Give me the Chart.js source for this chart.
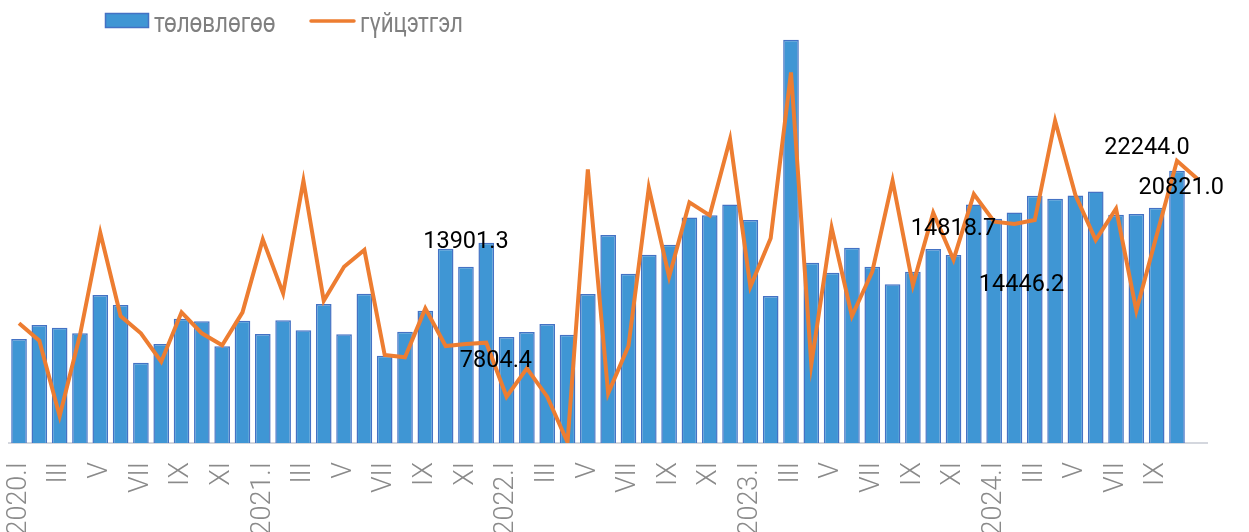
<!DOCTYPE html>
<html>
<head>
<meta charset="utf-8">
<script src="https://cdn.jsdelivr.net/npm/chart.js@4.4.1/dist/chart.umd.min.js"></script>
<style>
html,body{margin:0;padding:0;background:#fff;}
#wrap{width:1249px;height:532px;position:relative;}
</style>
</head>
<body>
<div id="wrap"><canvas id="c"></canvas></div>
<script>
// ---- data ----
const years = [2020, 2021, 2022, 2023, 2024];
const months = ['I','II','III','IV','V','VI','VII','VIII','IX','X','XI','XII'];
const lastMonthCount = 11; // 2024 runs through XI
const seriesNames = ['төлөвлөгөө', 'гүйцэтгэл'];

const planValues = [
  8195, 9298, 9086, 8644, 11662, 10874, 6328, 7801, 9795, 9590, 7620, 9637,
  8589, 9669, 8881, 10953, 8563, 11768, 6882, 8773, 10428, 15313, 13901.3, 15785,
  8353, 8747, 9377, 8536, 11741, 16390, 13342, 14840, 15628, 17783, 17941, 18807,
  17572, 11584, 31781, 14210, 13422, 15392, 13895, 12503, 13500, 15287, 14818.7, 18807,
  17677, 18177, 19490, 19253, 19516, 19831, 17993, 18045, 18544, 21460, null
];
const actualValues = [
  9432, 8061, 2128, 8510, 16572, 10008, 8644, 6406, 10299, 8644, 7699, 10299,
  16052, 11796, 20669, 11216, 13895, 15208, 6934, 6751, 10612, 7644, 7804.4, 7906,
  3651, 5884, 3651, 60, 21567, 3914, 7644, 20121, 13107, 18964, 17941, 23955,
  12319, 16130, 29211, 6199, 16968, 10008, 13500, 20671, 12450, 18148, 14446.2, 19621,
  17440, 17257, 17572, 25397, 19542, 15996, 18465, 10427, 16370, 22244.0, 20821.0
];
const labeledPlanIdx = [22, 46];
const labeledActualIdx = [22, 46, 57, 58];
const yMax = 32000;

// ---- categories ----
const categories = [];
years.forEach((y, yi) => {
  const n = (yi === years.length - 1) ? lastMonthCount : 12;
  for (let m = 0; m < n; m++) categories.push(m === 0 ? (y + '.' + months[m]) : months[m]);
});

// ---- styles ----
const BAR_FILL = '#3f96d4';
const BAR_BORDER = '#4472c4';
const LINE_COLOR = '#ed7d31';
const GRAY = '#8a8a8a';

// label offsets (text centre relative to the mark's pixel)
const planLabelOffset = {22: [0, -25], 46: [0, -25.5]};
const actualLabelOffset = {22: [30, 17], 46: [68, 25], 57: [-30, -12.5], 58: [-16, 9]};

const dataLabelPlugin = {
  id: 'dataLabels',
  afterDatasetsDraw(chart) {
    const ctx = chart.ctx;
    ctx.save();
    ctx.font = '400 23.5px Roboto';
    ctx.fillStyle = '#000';
    ctx.textAlign = 'center';
    ctx.textBaseline = 'middle';
    const lineMeta = chart.getDatasetMeta(0);
    const barMeta = chart.getDatasetMeta(1);
    labeledPlanIdx.forEach(i => {
      const el = barMeta.data[i];
      const o = planLabelOffset[i] || [0, -20];
      ctx.fillText(planValues[i].toFixed(1), el.x + o[0], el.y + o[1]);
    });
    labeledActualIdx.forEach(i => {
      const el = lineMeta.data[i];
      const o = actualLabelOffset[i] || [20, 10];
      ctx.fillText(actualValues[i].toFixed(1), el.x + o[0], el.y + o[1]);
    });
    ctx.restore();
  }
};

const legendPlugin = {
  id: 'customLegend',
  afterDraw(chart) {
    const ctx = chart.ctx;
    ctx.save();
    // bar swatch
    ctx.fillStyle = BAR_FILL;
    ctx.fillRect(105, 13, 44, 15);
    ctx.strokeStyle = BAR_BORDER;
    ctx.lineWidth = 1.5;
    ctx.strokeRect(105.5, 13.5, 43, 14);
    // line swatch
    ctx.strokeStyle = LINE_COLOR;
    ctx.lineWidth = 3.5;
    ctx.lineCap = 'round';
    ctx.beginPath();
    ctx.moveTo(311, 21);
    ctx.lineTo(354, 21);
    ctx.stroke();
    // texts (condensed)
    ctx.fillStyle = '#808080';
    ctx.font = '400 28px Roboto';
    ctx.textBaseline = 'alphabetic';
    ctx.textAlign = 'left';
    const sx = 0.8;
    [[seriesNames[0], 154], [seriesNames[1], 360]].forEach(([t, x]) => {
      ctx.save();
      ctx.translate(x, 31.5);
      ctx.scale(sx, 1);
      ctx.fillText(t, 0, 0);
      ctx.restore();
    });
    ctx.restore();
  }
};

new Chart(document.getElementById('c'), {
  data: {
    labels: categories,
    datasets: [
      {
        type: 'line',
        label: seriesNames[1],
        data: actualValues,
        borderColor: LINE_COLOR,
        backgroundColor: LINE_COLOR,
        borderWidth: 4,
        pointRadius: 0,
        tension: 0,
        order: 0
      },
      {
        type: 'bar',
        label: seriesNames[0],
        data: planValues,
        backgroundColor: BAR_FILL,
        borderColor: BAR_BORDER,
        borderWidth: 1.5,
        categoryPercentage: 1,
        barPercentage: 0.77,
        order: 1
      }
    ]
  },
  options: {
    responsive: true,
    maintainAspectRatio: false,
    animation: false,
    layout: { padding: { left: 8, right: 36, top: 37, bottom: 0 } },
    plugins: { legend: { display: false }, tooltip: { enabled: false } },
    scales: {
      x: {
        grid: { display: false, drawTicks: false },
        border: { display: true, color: '#d4d7de', width: 2 },
        afterFit(scale) { scale.height = 89; },
        ticks: {
          autoSkip: false,
          minRotation: 90,
          maxRotation: 90,
          padding: 19,
          color: GRAY,
          font: { family: 'Roboto', size: 27, weight: '300' },
          callback(value, index) {
            return (index % 2 === 0 && planValues[index] !== null) ? categories[index] : '';
          }
        }
      },
      y: {
        display: false,
        min: 0,
        max: yMax
      }
    }
  },
  plugins: [dataLabelPlugin, legendPlugin]
});
</script>
</body>
</html>
